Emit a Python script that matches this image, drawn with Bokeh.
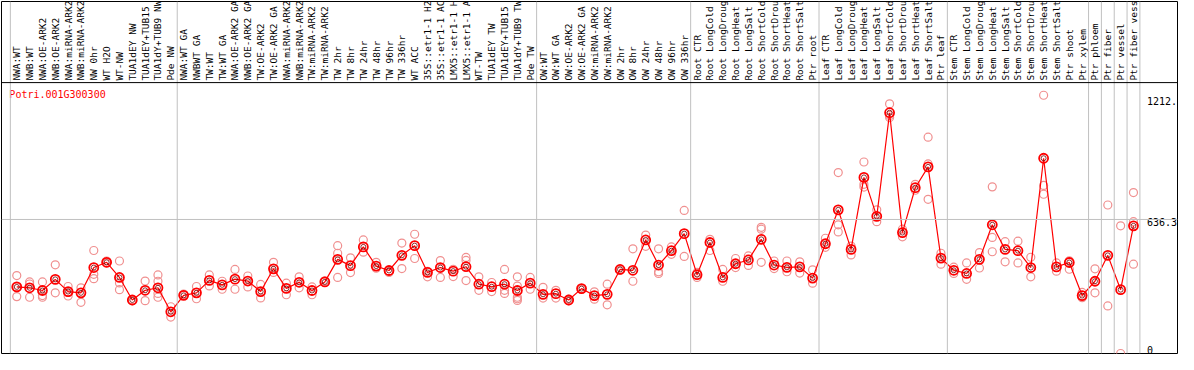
import math
from bokeh.plotting import figure
from bokeh.models import Range1d, Span, ColumnDataSource
from bokeh.core.properties import value
from bokeh.embed import file_html
from bokeh.resources import INLINE

# ---------------- data ----------------
gene_id = "Potri.001G300300"

nw_labels = ["NWA:WT", "NWB:WT", "NWA:OE-ARK2", "NWB:OE-ARK2", "NWA:miRNA-ARK2",
             "NWB:miRNA-ARK2", "NW 0hr", "WT H2O", "WT-NW", "TUA1dEY NW",
             "TUA1dEY+TUB15", "TUA1dY+TUB9 NW", "Pde NW"]
nw_means = [316, 312, 299, 352, 294, 288, 408, 433, 361, 254, 300, 312, 198]
nw_reps = [[370, 270, 316], [340, 330, 267], [340, 267, 275], [421, 288], [318, 273, 290],
           [312, 243], [489, 376, 355], [439, 430], [439, 335, 303], [254, 250],
           [344, 251], [373, 343, 285, 267], [222, 173]]

tw_labels = ["NWA:WT GA", "NWBWT GA", "TW:WT", "TW:WT GA", "NWA:OE-ARK2 GA",
             "NWB:OE-ARK2 GA", "TW:OE-ARK2", "TW:OE-ARK2 GA", "NWA:miRNA-ARK2",
             "NWB:miRNA-ARK2", "TW:miRNA-ARK2", "TW:miRNA-ARK2", "TW 2hr", "TW 8hr",
             "TW 24hr", "TW 48hr", "TW 96hr", "TW 336hr", "WT ACC", "35S::etr1-1 H2",
             "35S::etr1-1 AC", "LMX5::etr1-1 H", "LMX5::etr1-1 A", "WT-TW", "TUA1dEY TW",
             "TUA1dEY+TUB15", "TUA1dY+TUB9 TW", "Pde TW"]
tw_means = [276, 288, 347, 326, 353, 344, 294, 402, 309, 338, 299, 340, 447, 417,
            506, 415, 394, 466, 512, 385, 408, 391, 412, 329, 317, 329, 299, 334]
tw_reps = [[276, 282], [318, 260], [373, 321], [343, 305], [399, 305], [368, 316],
           [328, 264], [433, 385], [334, 279], [364, 312], [316, 279], [340, 345],
           [512, 476, 361], [454, 384], [539, 481], [433, 405], [390, 385], [524, 403],
           [566, 451], [364, 390], [441, 361], [400, 365], [456, 442, 346], [364, 300],
           [337, 294], [399, 300, 285], [364, 320, 267, 252, 260], [361, 305]]

ow_labels = ["OW:WT", "OW:WT GA", "OW:OE-ARK2", "OW:OE-ARK2 GA", "OW:miRNA-ARK2",
             "OW:miRNA-ARK2", "OW 2hr", "OW 8hr", "OW 24hr", "OW 48hr", "OW 96hr", "OW 336hr"]
ow_means = [281, 284, 254, 308, 275, 281, 399, 395, 539, 420, 488, 569]
ow_reps = [[314, 263], [300, 263], [258, 250], [308, 305], [293, 258], [329, 231],
           [400, 395], [497, 343], [562, 509], [497, 388, 380], [506, 471], [679, 461]]

root_labels = ["Root CTR", "Root LongCold", "Root LongDroug", "Root LongHeat",
               "Root LongSalt", "Root ShortCold", "Root ShortDrou", "Root ShortHeat",
               "Root ShortSalt", "Ptr root"]
root_means = [374, 527, 361, 426, 444, 542, 420, 409, 411, 358]
root_reps = [[361, 385], [542, 489], [399, 343], [451, 408], [463, 418], [599, 590, 433],
             [439, 403], [439, 388], [435, 382], [397, 334]]

leaf_labels = ["Leaf CTR", "Leaf LongCold", "Leaf LongDroug", "Leaf LongHeat",
               "Leaf LongSalt", "Leaf ShortCold", "Leaf ShortDrou", "Leaf ShortHeat",
               "Leaf ShortSalt", "Ptr leaf"]
leaf_means = [521, 682, 494, 836, 651, 1143, 574, 787, 886, 453]
leaf_reps = [[547, 504], [859, 611, 577], [510, 468], [909, 803, 790], [682, 626],
             [1185, 1120, 1130], [590, 554], [803, 775], [1027, 900, 732], [476, 424]]

stem_labels = ["Stem CTR", "Stem LongCold", "Stem LongDroug", "Stem LongHeat",
               "Stem LongSalt", "Stem ShortCold", "Stem ShortDrou", "Stem ShortHeat",
               "Stem ShortSalt", "Ptr shoot", "Ptr xylem"]
stem_means = [395, 380, 447, 611, 494, 488, 408, 927, 411, 432, 275]
stem_reps = [[410, 380], [430, 352], [479, 406], [791, 551, 483], [531, 435], [533, 430],
             [457, 364], [1226, 798, 756], [430, 391], [440, 400], [290, 265]]

tissue_labels = ["Ptr phloem", "Ptr fiber", "Ptr vessel", "Ptr fiber vess"]
tissue_means = [343, 466, 303, 606]
tissue_reps = [[402, 288], [705, 226], [606, 0], [764, 626, 424]]

y_tick_values = [1212, 636.3, 0]
y_tick_labels = ["1212.", "636.3", "0"]

# ---------------- assemble ----------------
groups = [(nw_labels, nw_means, nw_reps), (tw_labels, tw_means, tw_reps),
          (ow_labels, ow_means, ow_reps), (root_labels, root_means, root_reps),
          (leaf_labels, leaf_means, leaf_reps), (stem_labels, stem_means, stem_reps)]
for k in range(len(tissue_labels)):
    groups.append(([tissue_labels[k]], [tissue_means[k]], [tissue_reps[k]]))

labels, means, reps, boundaries = [], [], [], [0]
for g_labels, g_means, g_reps in groups:
    labels += g_labels
    means += g_means
    reps += g_reps
    boundaries.append(len(labels))

n = len(labels)
xc = [i + 0.5 for i in range(n)]
rep_x = [xc[i] for i in range(n) for _ in reps[i]]
rep_y = [v for i in range(n) for v in reps[i]]

# ---------------- layout / style ----------------
HEADER_Y = 1286
MONO = value("DejaVu Sans Mono")

p = figure(width=1178, height=354, output_backend="svg", toolbar_location=None,
           x_range=Range1d(-0.69, 90.93), y_range=Range1d(0, 1671),
           x_axis_location=None, y_axis_location=None,
           min_border_left=1, min_border_right=1, min_border_top=1, min_border_bottom=1)
p.xgrid.visible = False
p.ygrid.visible = False
p.outline_line_color = "black"
p.outline_line_width = 1
p.background_fill_color = "white"
p.border_fill_color = "white"

for b in boundaries:
    p.add_layout(Span(location=b, dimension="height", line_color="#c0c0c0", line_width=1))
p.add_layout(Span(location=y_tick_values[1], dimension="width", line_color="#c0c0c0", line_width=1))
p.add_layout(Span(location=HEADER_Y, dimension="width", line_color="black", line_width=1))

# header labels
p.text(x=xc, y=[HEADER_Y] * n, text=labels, angle=math.pi / 2,
       text_align="left", text_baseline="middle", y_offset=-2,
       text_font=MONO, text_font_size="9.5px", text_color="black")

# title
p.text(x=[0], y=[HEADER_Y], text=[gene_id], text_align="left", text_baseline="middle",
       x_offset=-1, y_offset=12, text_font=MONO, text_font_size="10px", text_color="red")

# replicates
p.scatter(rep_x, rep_y, marker="circle", size=8, fill_color=None,
          line_color="#f09090", line_width=1.2)

# mean line and markers
p.line(xc, means, line_color="red", line_width=1.2)
p.scatter(xc, means, marker="circle", size=9, fill_color=None,
          line_color="red", line_width=1.8)
p.scatter(xc, means, marker="circle", size=5, fill_color=None,
          line_color="#700000", line_width=0.8)

# right-hand value labels
p.text(x=[boundaries[-1]] * 2, y=y_tick_values[:2], text=y_tick_labels[:2],
       text_align="left", text_baseline="top", x_offset=7, y_offset=-1,
       text_font=MONO, text_font_size="10px", text_color="black",
       background_fill_color="white")
p.text(x=[boundaries[-1]], y=y_tick_values[2:], text=y_tick_labels[2:],
       text_align="left", text_baseline="bottom", x_offset=7, y_offset=0,
       text_font=MONO, text_font_size="10px", text_color="black")

open("out.html", "w").write(file_html(p, INLINE))
